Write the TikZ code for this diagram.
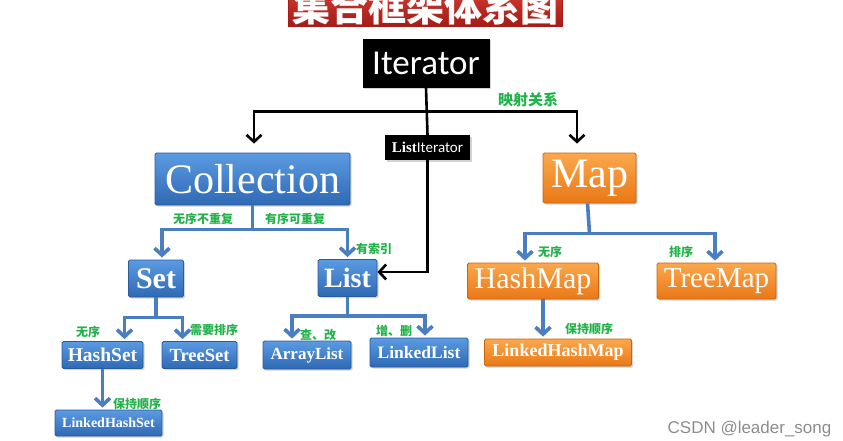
\documentclass[tikz,border=0pt]{standalone}
\usepackage{fontspec}
\setmainfont{Liberation Serif}
\newfontfamily\cjk{Noto Sans CJK SC}
\newfontfamily\cali{Carlito}
\newfontfamily\wmark{Liberation Sans}
\usetikzlibrary{arrows.meta,shadows}

\definecolor{bluetop}{HTML}{5B9BE2}
\definecolor{bluebot}{HTML}{2F69B4}
\definecolor{blueedge}{HTML}{2A5C9C}
\definecolor{orangetop}{HTML}{FBA84C}
\definecolor{orangebot}{HTML}{E97816}
\definecolor{orangeedge}{HTML}{C8650F}
\definecolor{redtop}{HTML}{C9352C}
\definecolor{redbot}{HTML}{A51C18}
\definecolor{linkblue}{HTML}{4A7EC2}
\definecolor{labgreen}{HTML}{22B24A}
\newcommand\fsz[1]{\fontsize{#1}{#1}\selectfont}

\begin{document}
\begin{tikzpicture}[x=1pt,y=-1pt,
  bluebox/.style={draw=blueedge,line width=0.8pt,top color=bluetop,bottom color=bluebot,
    text=white,rounded corners=1.5pt,inner sep=0pt,
    drop shadow={opacity=0.35,shadow xshift=1.5pt,shadow yshift=-1.5pt}},
  orangebox/.style={bluebox,draw=orangeedge,top color=orangetop,bottom color=orangebot},
  blackbox/.style={fill=black,text=white,inner sep=0pt,
    drop shadow={opacity=0.35,shadow xshift=1.5pt,shadow yshift=-1.5pt}},
  lbl/.style={text=labgreen,font=\cjk\bfseries\fsz{12},inner sep=0pt},
  blueln/.style={draw=linkblue,line width=3.6pt},
  bluearr/.style={blueln,-{Straight Barb[length=7pt,width=15pt]},shorten >=2pt},
  blackln/.style={draw=black,line width=2.6pt},
  blackarr/.style={blackln,-{Straight Barb[length=7pt,width=15pt]}}]
\useasboundingbox (0,0) rectangle (843,440);

% title and top
\node[draw=redbot,line width=0.8pt,top color=redtop,bottom color=redbot,
  minimum width=274pt,minimum height=30pt,inner sep=0pt] (title) at (425,11) {};
\node[anchor=base,text=white,font=\cjk\bfseries\fsz{38},inner sep=0pt] (titletext) at (425,21) {集合框架体系图};
\node[blackbox,minimum width=127pt,minimum height=49pt] (it) at (426,63) {\cali\fsz{35}Iterator};
\node[blackbox,minimum width=85pt,minimum height=25pt] (lit) at (427.5,147.5)
  {{\bfseries\fsz{15}List}{\cali\fsz{15}Iterator}};

% first level
\node[bluebox,minimum width=195pt,minimum height=52pt] (coll) at (252.5,179) {\fsz{42}Collection};
\node[orangebox,minimum width=93pt,minimum height=50pt] (map) at (589.5,178) {\fsz{42}Map};

% second level
\node[bluebox,minimum width=55pt,minimum height=37pt] (set) at (156,278.5) {\bfseries\fsz{30}Set};
\node[bluebox,minimum width=59pt,minimum height=37pt] (list) at (347.5,278) {\bfseries\fsz{28}List};
\node[orangebox,minimum width=131pt,minimum height=36pt] (hmap) at (533,281) {\fsz{30}HashMap};
\node[orangebox,minimum width=119pt,minimum height=36pt] (tmap) at (716.5,281) {\fsz{29}TreeMap};

% third level
\node[bluebox,minimum width=81pt,minimum height=27pt] (hset) at (102.5,355) {\bfseries\fsz{19.5}HashSet};
\node[bluebox,minimum width=75pt,minimum height=27pt] (tset) at (199.5,355) {\bfseries\fsz{18.5}TreeSet};
\node[bluebox,minimum width=88pt,minimum height=28pt] (alist) at (307,355) {\bfseries\fsz{17}ArrayList};
\node[bluebox,minimum width=98pt,minimum height=29pt] (llist) at (419,352.5) {\bfseries\fsz{17.5}LinkedList};
\node[orangebox,minimum width=147pt,minimum height=27pt] (lhmap) at (558,352.5) {\bfseries\fsz{18}LinkedHashMap};
\node[bluebox,minimum width=107pt,minimum height=26pt] (lhset) at (108.5,423) {\bfseries\fsz{14}LinkedHashSet};

% black connectors
\coordinate (jt) at ([yshift=-24pt]it.south);
\draw[blackln] (it.south) -- (lit.north);
\draw[blackarr,shorten >=9pt] (jt) -| ([xshift=1.5pt]coll.north);
\draw[blackarr,shorten >=9pt] (jt) -| ([xshift=-12.5pt]map.north);
\draw[blackarr] (lit.south) |- ([yshift=6pt]list.east);

% blue connectors
\coordinate (cj) at ([yshift=-24pt]coll.south);
\draw[blueln] (coll.south) -- (cj);
\draw[bluearr] (cj) -| ([xshift=6pt]set.north);
\draw[bluearr] (cj) -| (list.north);

\coordinate (sj) at ([yshift=-20pt]set.south);
\draw[blueln] (set.south) -- (sj);
\draw[bluearr] (sj) -| ([xshift=22pt]hset.north);
\draw[bluearr] (sj) -| ([xshift=-17pt]tset.north);
\draw[bluearr] (hset.south) -- (hset.south |- lhset.north);

\coordinate (lj) at ([yshift=-19pt]list.south);
\draw[blueln] (list.south) -- (lj);
\draw[bluearr] (lj) -| ([xshift=-15pt]alist.north);
\draw[bluearr] (lj) -| ([xshift=6pt]llist.north);

\coordinate (mj) at ([yshift=-30pt]map.south);
\draw[blueln] ([xshift=-2pt]map.south) -- (mj);
\draw[bluearr] (mj) -| ([xshift=-8pt]hmap.north);
\draw[bluearr] (mj) -| ([xshift=-1.5pt]tmap.north);
\draw[bluearr] ([xshift=10pt]hmap.south) -- ([xshift=10pt]hmap.south |- lhmap.north);

% labels
\node[lbl,font=\cjk\bfseries\fsz{15}] (l1) at (528,100) {映射关系};
\node[lbl] (l2) at (203,219) {无序不重复};
\node[lbl] (l3) at (295,219) {有序可重复};
\node[lbl] (l4) at (374,249) {有索引};
\node[lbl] (l5) at (88,332) {无序};
\node[lbl] (l6) at (214,330) {需要排序};
\node[lbl] (l7) at (137,404) {保持顺序};
\node[lbl] (l8) at (318,335) {查、改};
\node[lbl] (l9) at (394,331) {增、删};
\node[lbl] (l10) at (550,252) {无序};
\node[lbl] (l11) at (681,252) {排序};
\node[lbl] (l12) at (589,329) {保持顺序};

\node[text=black!45,font=\wmark\fsz{17},inner sep=0pt] (wm) at (749.5,429) {CSDN @leader\_song};
\end{tikzpicture}
\end{document}
